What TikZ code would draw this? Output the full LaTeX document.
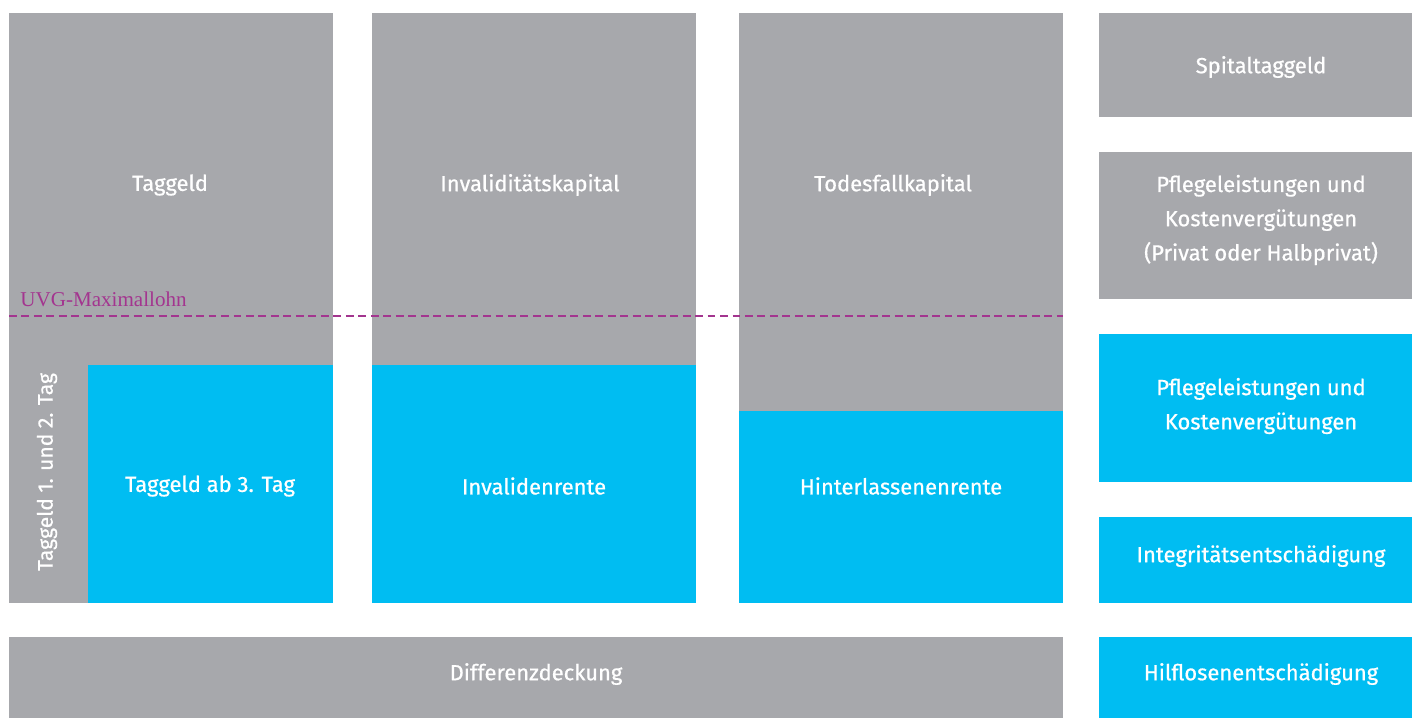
\documentclass[tikz,border=0pt]{standalone}
\usepackage{fontspec}
\setmainfont{Fira Sans}
\newfontfamily\lblfont[FakeBold=0.7]{Fira Sans}
\newfontfamily\uvgfont{Liberation Serif}
\usetikzlibrary{positioning}
\definecolor{uvggrey}{HTML}{A7A8AC}
\definecolor{uvgblue}{HTML}{00BDF2}
\definecolor{uvgpurple}{HTML}{A3358F}

\begin{document}
\begin{tikzpicture}[x=0.02cm, y=-0.02cm,
    lbl/.style = {text = white, font = \lblfont\fontsize{12.5}{19.5}\selectfont, align = center, inner sep = 0},
    greybox/.style = {fill = uvggrey},
    bluebox/.style = {fill = uvgblue}]

            \useasboundingbox (0,0) rectangle (1412,718);

            % Define columns
            \fill[greybox] (9,13) rectangle (333,603);
            \fill[bluebox] (88,365) rectangle (333,603);
            \fill[greybox] (372,13) rectangle (696,603);
            \fill[bluebox] (372,365) rectangle (696,603);
            \fill[greybox] (739,13) rectangle (1063,603);
            \fill[bluebox] (739,411) rectangle (1063,603);
            \fill[greybox] (9,637) rectangle (1063,718);

            % Right column
            \fill[greybox] (1099,13) rectangle (1412,117);
            \fill[greybox] (1099,152) rectangle (1412,299);
            \fill[bluebox] (1099,334) rectangle (1412,482);
            \fill[bluebox] (1099,517) rectangle (1412,603);
            \fill[bluebox] (1099,637) rectangle (1412,718);

            % Labels
            \node[lbl] (taggeld) at (170,185) {Taggeld};
            \node[lbl] (invkap) at (530,185) {Invaliditätskapital};
            \node[lbl] (todkap) at (893,185) {Todesfallkapital};
            \node[lbl] (tag3) at (210,486) {Taggeld ab 3. Tag};
            \node[lbl] (invrente) at (534,486) {Invalidenrente};
            \node[lbl] (hintrente) at (901,486) {Hinterlassenenrente};
            \node[lbl, rotate = 90, font = \lblfont\fontsize{12}{14}\selectfont] (tag12) at (47,472) {Taggeld 1. und 2. Tag};
            \node[lbl] (diff) at (536,674) {Differenzdeckung};
            \node[lbl] (spital) at (1261,67) {Spitaltaggeld};
            \node[lbl] (pflegepriv) at (1261,220) {Pflegeleistungen und\\Kostenvergütungen\\(Privat oder Halbprivat)};
            \node[lbl] (pflege) at (1261,406) {Pflegeleistungen und\\Kostenvergütungen};
            \node[lbl] (integ) at (1261,556) {Integritätsentschädigung};
            \node[lbl] (hilflos) at (1261,674) {Hilflosenentschädigung};

            % UVG-Maximallohn
            \coordinate (uvgl) at (9,316);
            \coordinate (uvgr) at (1063,316);
            \draw[uvgpurple, line width = 1.1pt, dash pattern = on 4.5pt off 2.6pt] (uvgl) -- (uvgr);
            \node[text = uvgpurple, font = \uvgfont\fontsize{12}{14}\selectfont, anchor = base west, inner sep = 0] (uvg) at (20,306) {UVG-Maximallohn};
        \end{tikzpicture}
\end{document}
